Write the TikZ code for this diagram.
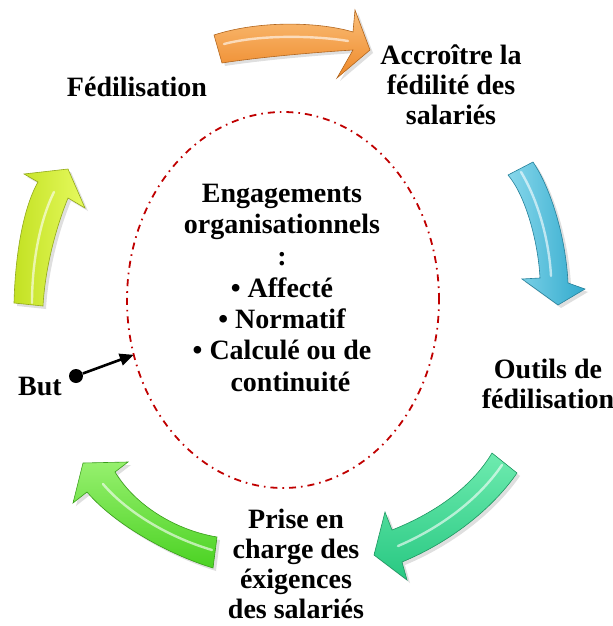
\documentclass[tikz,border=0pt]{standalone}
\usepackage{fontspec}
\setmainfont{Liberation Serif}
\usetikzlibrary{arrows.meta}
\usetikzlibrary{shapes.geometric}
\usetikzlibrary{shadows}

\definecolor{laranja}{RGB}{238,136,40}
\definecolor{laranjaclaro}{RGB}{250,190,120}
\definecolor{ciano}{RGB}{50,170,205}
\definecolor{cianoclaro}{RGB}{135,215,235}
\definecolor{turquesa}{RGB}{40,200,130}
\definecolor{turquesaclaro}{RGB}{110,235,175}
\definecolor{verde}{RGB}{75,210,35}
\definecolor{verdeclaro}{RGB}{150,240,110}
\definecolor{amarelo}{RGB}{195,225,35}
\definecolor{amareloclaro}{RGB}{230,250,95}
\definecolor{vermelho}{RGB}{192,0,0}

\begin{document}
\begin{tikzpicture}[x=0.5pt,y=-0.5pt,
    texto/.style={font=\bfseries\fontsize{14}{15}\selectfont, align=center, inner sep=0},
    seta/.style={draw=#1!75!black, line width=0.3pt,
      drop shadow={shadow xshift=1.5pt, shadow yshift=-1.5pt, opacity=0.25}},
    brilho/.style={white, opacity=0.6, line width=1.2pt, line cap=round}]

\useasboundingbox (0,0) rectangle (613,626);

% ellipse
\node[draw=vermelho, line width=0.9pt, ellipse, inner sep=0, outer sep=0,
      minimum width=156pt, minimum height=188pt,
      dash pattern=on 3.5pt off 2.5pt on 0.8pt off 2.5pt] (cadre) at (283,300) {};
\node[texto, font=\bfseries\fontsize{14}{15.75}\selectfont] (engag) at (282,288)
  {Engagements\\organisationnels\\:\\\textbullet\ Affecté\\\textbullet\ Normatif\\
   \textbullet\ Calculé ou de\\\hphantom{\textbullet\ }continuité};

% fleches
\draw[seta=laranja, top color=laranjaclaro, bottom color=laranja]
  (214,35) .. controls (260,20) and (320,22) .. (353,32) -- (355,10) -- (370,50)
  -- (337,78) -- (353,50) .. controls (320,52) and (260,57) .. (222,63) -- cycle;
\draw[brilho] (224,44) .. controls (262,34) and (318,36) .. (348,41);

\draw[seta=ciano, left color=cianoclaro, right color=ciano]
  (508,175) -- (533,162) .. controls (552,190) and (566,240) .. (568,283)
  -- (585,289) -- (558,305) -- (522,279) -- (540,278)
  .. controls (538,240) and (525,195) .. (508,175) -- cycle;
\draw[brilho] (521,172) .. controls (538,200) and (549,240) .. (551,276);

\draw[seta=turquesa, top color=turquesaclaro, bottom color=turquesa]
  (492,453) -- (517,473) .. controls (495,505) and (455,540) .. (402,562)
  -- (407,580) -- (374,555) -- (385,512) -- (392,530)
  .. controls (430,515) and (470,490) .. (492,453) -- cycle;
\draw[brilho] (502,465) .. controls (478,500) and (440,528) .. (398,546);

\draw[seta=verde, top color=verdeclaro, bottom color=verde]
  (217,537) -- (213,568) .. controls (170,555) and (115,525) .. (87,492)
  -- (73,503) -- (83,463) -- (128,462) -- (115,472)
  .. controls (135,505) and (175,530) .. (217,537) -- cycle;
\draw[brilho] (212,550) .. controls (165,536) and (125,510) .. (103,484);

\draw[seta=amarelo, left color=amarelo, right color=amareloclaro]
  (14,303) .. controls (15,260) and (22,210) .. (38,182) -- (24,174) -- (68,169)
  -- (85,208) -- (68,198) .. controls (55,230) and (45,270) .. (43,306) -- cycle;
\draw[brilho] (32,303) .. controls (32,262) and (40,220) .. (54,192);

% etiquettes
\node[texto] (fidel) at (137,87) {Fédilisation};
\node[texto] (accroitre) at (451,85) {Accroître la\\fédilité des\\salariés};
\node[texto] (outils) at (548,384) {Outils de\\fédilisation};
\node[texto] (prise) at (296,564) {Prise en\\charge des\\éxigences\\des salariés};
\node[texto] (but) at (40,386) {But};

% but
\node[circle, fill=black, inner sep=0, minimum size=7pt] (ponto) at (76,376) {};
\draw[line width=1.3pt, -{Triangle[length=7pt,width=6pt]}] (ponto) -- (cadre);

\end{tikzpicture}
\end{document}
